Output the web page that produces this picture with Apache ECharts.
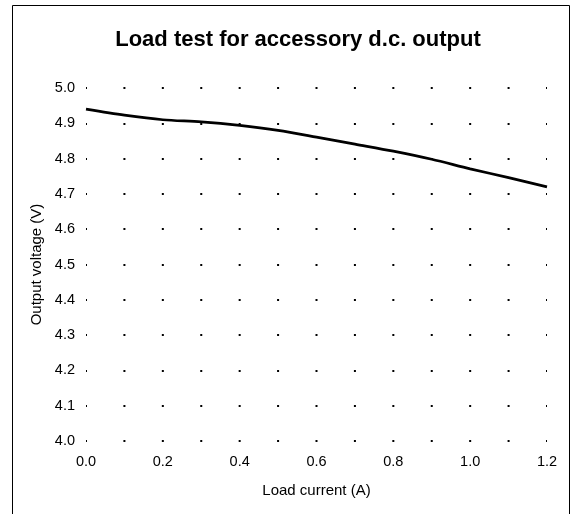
<!DOCTYPE html>
<html>
<head>
<meta charset="utf-8">
<script src="https://cdn.jsdelivr.net/npm/echarts@6/dist/echarts.min.js"></script>
<style>
html,body{margin:0;padding:0;background:#fff;}
#c{width:575px;height:514px;}
</style>
</head>
<body>
<div id="c"></div>
<script>
var titleText = 'Load test for accessory d.c. output';
var xName = 'Load current (A)';
var yName = 'Output voltage (V)';
var current = [0.0, 0.1, 0.2, 0.3, 0.4, 0.5, 0.6, 0.7, 0.8, 0.9, 1.0, 1.1, 1.2];
var voltage = [4.940, 4.923, 4.910, 4.904, 4.894, 4.880, 4.861, 4.841, 4.821, 4.798, 4.771, 4.746, 4.720];

var FONT = '"Liberation Sans", Arial, sans-serif';
var gridLeft = 86, gridRight = 28, gridTop = 88, gridBottom = 73;
var plotW = 575 - gridLeft - gridRight;
var xStep = plotW / 12;

var chart = echarts.init(document.getElementById('c'), null, {renderer: 'canvas'});
chart.setOption({
  animation: false,
  backgroundColor: '#ffffff',
  title: {
    text: titleText,
    left: 293,
    textAlign: 'center',
    top: 24,
    textStyle: {fontFamily: FONT, fontSize: 22, fontWeight: 'bold', color: '#000'}
  },
  graphic: [{
    type: 'rect',
    shape: {x: 12.5, y: 5.5, width: 557, height: 520},
    style: {fill: 'none', stroke: '#000', lineWidth: 1},
    silent: true, z: -1
  }],
  grid: {left: gridLeft, right: gridRight, top: gridTop, bottom: gridBottom},
  xAxis: {
    type: 'value', min: 0, max: 1.2, interval: 0.2,
    name: xName, nameLocation: 'middle', nameGap: 42,
    nameTextStyle: {fontFamily: FONT, fontSize: 15, color: '#000'},
    axisLine: {show: false}, axisTick: {show: false},
    axisLabel: {fontFamily: FONT, fontSize: 14.5, color: '#000', margin: 13,
      formatter: function (v) { return v.toFixed(1); }},
    splitLine: {show: false}
  },
  yAxis: {
    type: 'value', min: 4.0, max: 5.0, interval: 0.1,
    name: yName, nameLocation: 'middle', nameGap: 42,
    nameTextStyle: {fontFamily: FONT, fontSize: 15, color: '#000'},
    axisLine: {show: false}, axisTick: {show: false},
    axisLabel: {fontFamily: FONT, fontSize: 14.5, color: '#000', margin: 11,
      formatter: function (v) { return v.toFixed(1); }},
    splitLine: {show: true, lineStyle: {color: '#000', width: 2, type: [2, xStep - 2], dashOffset: 1}}
  },
  series: [{
    type: 'line',
    data: current.map(function (x, i) { return [x, voltage[i]]; }),
    smooth: 0.3,
    symbol: 'none',
    lineStyle: {color: '#000', width: 2.7}
  }]
});
</script>
</body>
</html>
